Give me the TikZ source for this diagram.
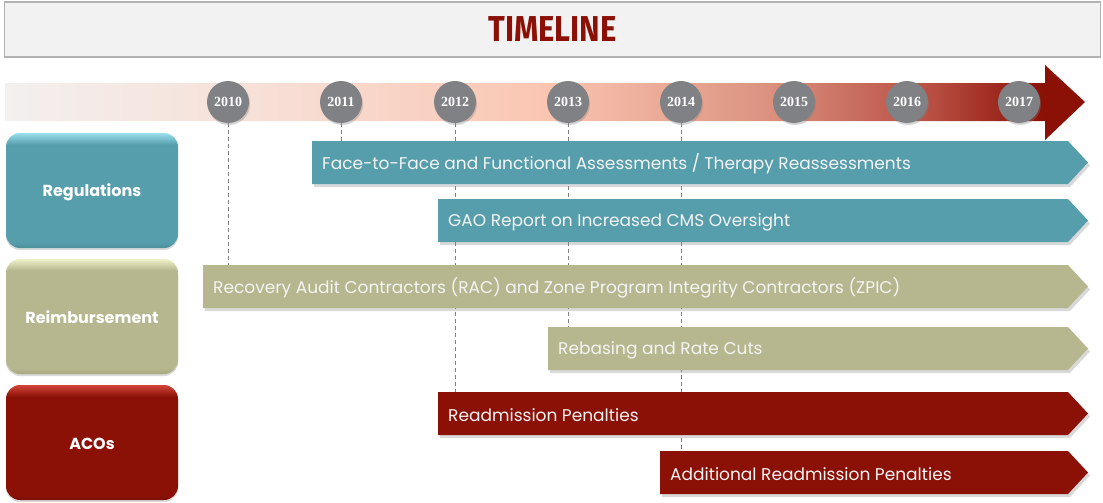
\documentclass[tikz,border=0pt]{standalone}
\usepackage{fontspec}
\setmainfont{Poppins}
\newfontfamily\yearfont{Liberation Serif}
\newfontfamily\titlefont{Fira Sans}
\usetikzlibrary{shadows}
\definecolor{tlteal}{HTML}{579EAC}
\definecolor{tlkhaki}{HTML}{B6B78F}
\definecolor{tlred}{HTML}{8B1107}
\definecolor{tlgray}{HTML}{808185}
\definecolor{tltext}{HTML}{F4F4F4}
\definecolor{tl0}{HTML}{F3F0EF}
\definecolor{tl1}{HTML}{F7DED4}
\definecolor{tl2}{HTML}{FAC6B2}
\definecolor{tl3}{HTML}{DC9481}
\definecolor{tl4}{HTML}{B84D41}
\definecolor{tl5}{HTML}{8B1107}
\definecolor{regtop}{HTML}{9AE0EE}
\definecolor{regbot}{HTML}{4A8E9B}
\definecolor{reitop}{HTML}{EEF0C8}
\definecolor{reibot}{HTML}{A5A77E}
\definecolor{acotop}{HTML}{D2453A}
\definecolor{acobot}{HTML}{7E0F06}
\pgfdeclarehorizontalshading{tlshade}{100bp}{color(0bp)=(tl0); color(25bp)=(tl0); color(38bp)=(tl1); color(50bp)=(tl2); color(60bp)=(tl3); color(68bp)=(tl4); color(73bp)=(tl5); color(100bp)=(tl5)}
\pgfdeclareverticalshading{regshade}{100bp}{color(0bp)=(regbot); color(25bp)=(regbot); color(27.5bp)=(tlteal); color(70bp)=(tlteal); color(75bp)=(regtop); color(100bp)=(regtop)}
\pgfdeclareverticalshading{reishade}{100bp}{color(0bp)=(reibot); color(25bp)=(reibot); color(27.5bp)=(tlkhaki); color(70bp)=(tlkhaki); color(75bp)=(reitop); color(100bp)=(reitop)}
\pgfdeclareverticalshading{acoshade}{100bp}{color(0bp)=(acobot); color(25bp)=(acobot); color(27.5bp)=(tlred); color(70bp)=(tlred); color(75bp)=(acotop); color(100bp)=(acotop)}
\tikzset{
  yearnode/.style={circle, fill=tlgray, minimum size=42pt, inner sep=0pt, text=white,
    font=\yearfont\bfseries\fontsize{14}{16}\selectfont,
    drop shadow={shadow xshift=1pt, shadow yshift=-2pt, opacity=0.35}},
  bartext/.style={anchor=west, text=tltext, inner sep=0pt, font=\fontsize{17}{19}\selectfont},
  barshadow/.style={drop shadow={shadow xshift=2pt, shadow yshift=-3pt, opacity=0.3}},
  guide/.style={draw=tlgray, line width=0.8pt, dash pattern=on 4pt off 3pt},
  catbox/.style={rounded corners=14pt, minimum width=172pt, minimum height=115pt, inner sep=0pt,
    text=white, font=\bfseries\fontsize{16}{18}\selectfont,
    drop shadow={shadow xshift=0pt, shadow yshift=-2pt, opacity=0.3}},
  catlabel/.style={text=white, font=\bfseries\fontsize{16}{18}\selectfont, inner sep=0pt}
}
\newcommand\tlbar[5]{%
  \fill[#4, barshadow] (#2,#3) -- (1068,#3) -- (1088,{#3+21.5}) -- (1068,{#3+43}) -- (#2,{#3+43}) -- cycle;
  \node[bartext] (#1) at ({#2+10},{#3+23}) {#5};
}
\begin{document}
\begin{tikzpicture}[x=1pt,y=-1pt]
\useasboundingbox (0,0) rectangle (1103,503);
% title
\node[draw=black!30, line width=1.2pt, fill=black!5, minimum width=1096pt, minimum height=55pt, inner sep=0pt] (titlebox) at (552.5,29.5) {};
\node[text=tlred, font=\titlefont\bfseries\fontsize{36}{40}\selectfont] (title) at (titlebox.center) {\scalebox{0.86}[1]{TIMELINE}};
% timeline arrow
\shade[shading=tlshade] (5,83) -- (1045,83) -- (1045,65) -- (1085,102) -- (1045,140) -- (1045,121) -- (5,121) -- cycle;
% years
\foreach \yr/\xx in {2010/228,2011/341,2012/455,2013/568,2014/681,2015/794,2016/907,2017/1019}
  \node[yearnode] (y\yr) at (\xx,102) {\yr};
% bar tops
\coordinate (ftfTop) at (0,141);
\coordinate (racTop) at (0,265);
\coordinate (rebTop) at (0,327);
\coordinate (readTop) at (0,392);
\coordinate (addTop) at (0,451);
% guides
\draw[guide] (y2010.south) -- (y2010.south |- racTop);
\draw[guide] (y2011.south) -- (y2011.south |- ftfTop);
\draw[guide] (y2012.south) -- (y2012.south |- readTop);
\draw[guide] (y2013.south) -- (y2013.south |- rebTop);
\draw[guide] (y2014.south) -- (y2014.south |- addTop);
% bars
\tlbar{ftf}{312}{141}{tlteal}{Face-to-Face and Functional Assessments / Therapy Reassessments}
\tlbar{gao}{438}{199}{tlteal}{GAO Report on Increased CMS Oversight}
\tlbar{rac}{203}{265}{tlkhaki}{Recovery Audit Contractors (RAC) and Zone Program Integrity Contractors (ZPIC)}
\tlbar{reb}{548}{327}{tlkhaki}{Rebasing and Rate Cuts}
\tlbar{read}{438}{392}{tlred}{Readmission Penalties}
\tlbar{add}{660}{451}{tlred}{Additional Readmission Penalties}
% categories
\node[catbox, shading=regshade] (reg) at (92,190.5) {};
\node[catbox, shading=reishade] (rei) at (92,316.5) {};
\node[catbox, shading=acoshade] (aco) at (92,442.5) {};
\node[catlabel] (regl) at ([yshift=-2pt]reg.center) {Regulations};
\node[catlabel] (reil) at ([yshift=-1pt]rei.center) {Reimbursement};
\node[catlabel] (acol) at ([yshift=-1pt]aco.center) {ACOs};
\end{tikzpicture}
\end{document}
